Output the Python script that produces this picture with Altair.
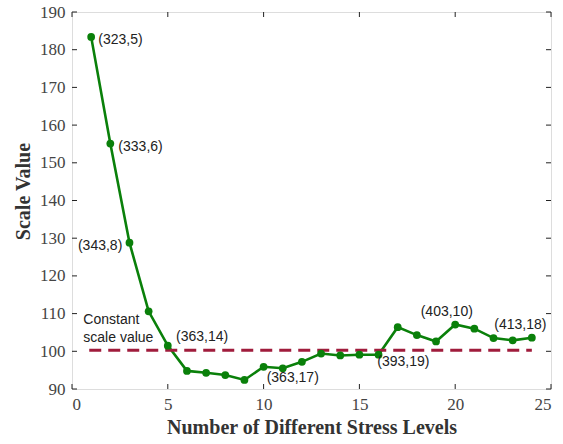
import altair as alt
import pandas as pd

levels = list(range(1, 25))
scale_values = [183.4, 155.1, 128.8, 110.6, 101.5, 94.8, 94.3, 93.7, 92.4, 95.9, 95.5, 97.2,
                99.4, 98.9, 99.1, 99.1, 106.4, 104.3, 102.6, 107.1, 106.0, 103.5, 102.9, 103.6]

label_texts = ["(323,5)", "(333,6)", "(343,8)", "(363,14)", "(363,17)", "(393,19)", "(403,10)", "(413,18)",
               "Constant", "scale value"]
label_x = [1.37, 2.42, 0.31, 5.43, 10.16, 15.93, 18.2, 22.04, 0.59, 0.59]
label_y = [182.6, 154.3, 127.9, 103.7, 92.8, 97.1, 110.3, 107.0, 108.3, 103.4]

const_x = [0.9, 24.0]
const_y = [100.3, 100.3]

x_ticks = [0, 5, 10, 15, 20, 25]
y_ticks = [90, 100, 110, 120, 130, 140, 150, 160, 170, 180, 190]

W, H = 479, 377
SERIF = "Liberation Serif, Times New Roman, serif"

df = pd.DataFrame({"x": levels, "y": scale_values})
lab = pd.DataFrame({"t": label_texts, "x": label_x, "y": label_y})
const = pd.DataFrame({"x": const_x, "y": const_y})
xt = pd.DataFrame({"x": x_ticks})
yt = pd.DataFrame({"y": y_ticks})

xs = alt.Scale(domain=[0, 25], nice=False, zero=False)
ys = alt.Scale(domain=[90, 190], nice=False, zero=False)

X = alt.X("x:Q", scale=xs, axis=alt.Axis(values=x_ticks, title="Number of Different Stress Levels",
                                          labelPadding=7, titlePadding=5, labelOverlap=False,
                                          labelFont=SERIF, titleFont=SERIF))
Y = alt.Y("y:Q", scale=ys, axis=alt.Axis(values=y_ticks, title="Scale Value",
                                          labelPadding=7, titlePadding=6, titleY=179,
                                          labelOverlap=False, labelFont=SERIF, titleFont=SERIF))

dash = alt.Chart(const).mark_line(color="#a01c3c", strokeWidth=3, strokeDash=[12, 7]).encode(x=X, y=Y)

line = alt.Chart(df).mark_line(color="#0a800a", strokeWidth=2.6).encode(x=X, y=Y)
pts = alt.Chart(df).mark_circle(color="#0a800a", size=60, opacity=1).encode(x=X, y=Y)

text = alt.Chart(lab).mark_text(align="left", baseline="middle", font="Liberation Sans",
                                fontSize=14, color="#222").encode(x=X, y=Y, text="t:N")

tick_len = 5
xb = alt.Chart(xt).mark_rule(color="#222").encode(x=X, y=alt.value(H), y2=alt.value(H - tick_len))
xtop = alt.Chart(xt).mark_rule(color="#222").encode(x=X, y=alt.value(0), y2=alt.value(tick_len))
yl = alt.Chart(yt).mark_rule(color="#222").encode(y=Y, x=alt.value(0), x2=alt.value(tick_len))
yr = alt.Chart(yt).mark_rule(color="#222").encode(y=Y, x=alt.value(W), x2=alt.value(W - tick_len))

chart = alt.layer(line, dash, pts, text, xb, xtop, yl, yr).properties(
    width=W, height=H,
    autosize=alt.AutoSizeParams(type="none"),
    padding={"left": 72, "top": 12, "right": 12, "bottom": 55},
).configure_view(stroke="#222", strokeWidth=1.3).configure(background="white").configure_axis(
    domain=False, ticks=False, grid=False, labelFont=SERIF,
    labelFontSize=17, labelColor="#444", labelOverlap=False,
    titleFont=SERIF, titleFontSize=20, titleFontWeight="bold", titleColor="#333")

chart.save("out.html", embed_options={"renderer": "svg", "actions": False})
